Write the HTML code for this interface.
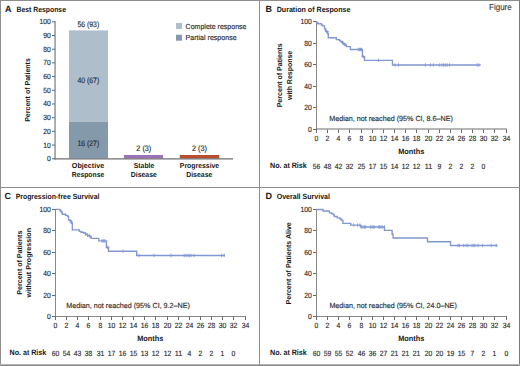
<!DOCTYPE html>
<html><head><meta charset="utf-8"><title>Figure</title>
<style>
html,body{margin:0;padding:0;background:#fff;}
body{width:520px;height:366px;overflow:hidden;}
svg{display:block;font-family:"Liberation Sans", sans-serif;text-rendering:geometricPrecision;}
</style></head>
<body>
<svg width="520" height="366" viewBox="0 0 520 366">
<rect x="0" y="0" width="520" height="366" fill="#fff"/>
<rect x="0" y="0" width="520" height="1" fill="#8e8e8e"/>
<rect x="0" y="0" width="1" height="366" fill="#909090"/>
<rect x="519" y="0" width="1" height="366" fill="#7a7a7a"/>
<rect x="0" y="364" width="520" height="1" fill="#b4b4b4"/>
<rect x="0" y="365" width="520" height="1" fill="#8a8a8a"/>
<rect x="259" y="0" width="1" height="366" fill="#8e8e8e"/>
<rect x="0" y="187" width="520" height="1" fill="#8e8e8e"/>
<text x="5.00" y="12.00" font-size="9.0" font-weight="bold" text-anchor="start" fill="#161616">A</text>
<text x="16.50" y="12.00" font-size="7.6" font-weight="bold" text-anchor="start" fill="#161616" textLength="49.50" lengthAdjust="spacingAndGlyphs">Best Response</text>
<rect x="69" y="30.4" width="39" height="91.27350000000001" fill="#aebfcb"/>
<rect x="69" y="121.6735" width="39" height="36.826499999999996" fill="#8499aa"/>
<rect x="124" y="155" width="39" height="3.5" fill="#9b72b8"/>
<rect x="179.8" y="155" width="39.5" height="3.5" fill="#b94e2e"/>
<line x1="55.05" y1="21" x2="55.05" y2="159.5" stroke="#6e6e6e" stroke-width="1.1"/>
<line x1="54.5" y1="158.9" x2="233" y2="158.9" stroke="#6e6e6e" stroke-width="1.1"/>
<line x1="52" y1="158.75" x2="55" y2="158.75" stroke="#6a6a6a" stroke-width="1"/>
<text x="50.90" y="161.25" font-size="7.6" stroke="#2b2b2b" stroke-width="0.15" text-anchor="end" fill="#2b2b2b" textLength="3.78" lengthAdjust="spacingAndGlyphs">0</text>
<line x1="52" y1="145.055" x2="55" y2="145.055" stroke="#6a6a6a" stroke-width="1"/>
<text x="50.90" y="147.56" font-size="7.6" stroke="#2b2b2b" stroke-width="0.15" text-anchor="end" fill="#2b2b2b" textLength="7.56" lengthAdjust="spacingAndGlyphs">10</text>
<line x1="52" y1="131.35999999999999" x2="55" y2="131.35999999999999" stroke="#6a6a6a" stroke-width="1"/>
<text x="50.90" y="133.86" font-size="7.6" stroke="#2b2b2b" stroke-width="0.15" text-anchor="end" fill="#2b2b2b" textLength="7.56" lengthAdjust="spacingAndGlyphs">20</text>
<line x1="52" y1="117.66499999999999" x2="55" y2="117.66499999999999" stroke="#6a6a6a" stroke-width="1"/>
<text x="50.90" y="120.16" font-size="7.6" stroke="#2b2b2b" stroke-width="0.15" text-anchor="end" fill="#2b2b2b" textLength="7.56" lengthAdjust="spacingAndGlyphs">30</text>
<line x1="52" y1="103.97" x2="55" y2="103.97" stroke="#6a6a6a" stroke-width="1"/>
<text x="50.90" y="106.47" font-size="7.6" stroke="#2b2b2b" stroke-width="0.15" text-anchor="end" fill="#2b2b2b" textLength="7.56" lengthAdjust="spacingAndGlyphs">40</text>
<line x1="52" y1="90.275" x2="55" y2="90.275" stroke="#6a6a6a" stroke-width="1"/>
<text x="50.90" y="92.78" font-size="7.6" stroke="#2b2b2b" stroke-width="0.15" text-anchor="end" fill="#2b2b2b" textLength="7.56" lengthAdjust="spacingAndGlyphs">50</text>
<line x1="52" y1="76.58" x2="55" y2="76.58" stroke="#6a6a6a" stroke-width="1"/>
<text x="50.90" y="79.08" font-size="7.6" stroke="#2b2b2b" stroke-width="0.15" text-anchor="end" fill="#2b2b2b" textLength="7.56" lengthAdjust="spacingAndGlyphs">60</text>
<line x1="52" y1="62.88500000000001" x2="55" y2="62.88500000000001" stroke="#6a6a6a" stroke-width="1"/>
<text x="50.90" y="65.39" font-size="7.6" stroke="#2b2b2b" stroke-width="0.15" text-anchor="end" fill="#2b2b2b" textLength="7.56" lengthAdjust="spacingAndGlyphs">70</text>
<line x1="52" y1="49.190000000000005" x2="55" y2="49.190000000000005" stroke="#6a6a6a" stroke-width="1"/>
<text x="50.90" y="51.69" font-size="7.6" stroke="#2b2b2b" stroke-width="0.15" text-anchor="end" fill="#2b2b2b" textLength="7.56" lengthAdjust="spacingAndGlyphs">80</text>
<line x1="52" y1="35.49500000000001" x2="55" y2="35.49500000000001" stroke="#6a6a6a" stroke-width="1"/>
<text x="50.90" y="38.00" font-size="7.6" stroke="#2b2b2b" stroke-width="0.15" text-anchor="end" fill="#2b2b2b" textLength="7.56" lengthAdjust="spacingAndGlyphs">90</text>
<line x1="52" y1="21.80000000000002" x2="55" y2="21.80000000000002" stroke="#6a6a6a" stroke-width="1"/>
<text x="50.90" y="24.30" font-size="7.6" stroke="#2b2b2b" stroke-width="0.15" text-anchor="end" fill="#2b2b2b" textLength="11.34" lengthAdjust="spacingAndGlyphs">100</text>
<text x="88.30" y="26.60" font-size="7.9" stroke="#2b2b2b" stroke-width="0.15" text-anchor="middle" fill="#2b2b2b" textLength="21.80" lengthAdjust="spacingAndGlyphs">56 (93)</text>
<text x="88.30" y="83.30" font-size="7.9" stroke="#2b2b2b" stroke-width="0.15" text-anchor="middle" fill="#2b2b2b" textLength="21.80" lengthAdjust="spacingAndGlyphs">40 (67)</text>
<text x="88.30" y="145.50" font-size="7.9" stroke="#2b2b2b" stroke-width="0.15" text-anchor="middle" fill="#2b2b2b" textLength="21.80" lengthAdjust="spacingAndGlyphs">16 (27)</text>
<text x="143.80" y="150.90" font-size="7.9" stroke="#2b2b2b" stroke-width="0.15" text-anchor="middle" fill="#2b2b2b" textLength="15.00" lengthAdjust="spacingAndGlyphs">2 (3)</text>
<text x="199.50" y="150.90" font-size="7.9" stroke="#2b2b2b" stroke-width="0.15" text-anchor="middle" fill="#2b2b2b" textLength="15.00" lengthAdjust="spacingAndGlyphs">2 (3)</text>
<text x="88.00" y="168.00" font-size="7.3" font-weight="bold" text-anchor="middle" fill="#161616" textLength="32.40" lengthAdjust="spacingAndGlyphs">Objective</text>
<text x="88.00" y="177.20" font-size="7.3" font-weight="bold" text-anchor="middle" fill="#161616" textLength="32.40" lengthAdjust="spacingAndGlyphs">Response</text>
<text x="144.00" y="168.00" font-size="7.3" font-weight="bold" text-anchor="middle" fill="#161616" textLength="20.50" lengthAdjust="spacingAndGlyphs">Stable</text>
<text x="143.80" y="177.20" font-size="7.3" font-weight="bold" text-anchor="middle" fill="#161616" textLength="26.00" lengthAdjust="spacingAndGlyphs">Disease</text>
<text x="199.50" y="168.00" font-size="7.3" font-weight="bold" text-anchor="middle" fill="#161616" textLength="39.40" lengthAdjust="spacingAndGlyphs">Progressive</text>
<text x="199.30" y="177.20" font-size="7.3" font-weight="bold" text-anchor="middle" fill="#161616" textLength="26.20" lengthAdjust="spacingAndGlyphs">Disease</text>
<text transform="translate(29.8,90) rotate(-90)" x="0" y="0" font-size="7.2" font-weight="bold" text-anchor="middle" fill="#161616" textLength="63.7" lengthAdjust="spacingAndGlyphs">Percent of Patients</text>
<rect x="176" y="23" width="6" height="6" fill="#aebfcb"/>
<rect x="176" y="34.7" width="6" height="6" fill="#8499aa"/>
<text x="185.60" y="28.60" font-size="7.3" stroke="#2b2b2b" stroke-width="0.15" text-anchor="start" fill="#2b2b2b" textLength="60.90" lengthAdjust="spacingAndGlyphs">Complete response</text>
<text x="185.60" y="40.30" font-size="7.3" stroke="#2b2b2b" stroke-width="0.15" text-anchor="start" fill="#2b2b2b" textLength="51.00" lengthAdjust="spacingAndGlyphs">Partial response</text>
<text x="265.50" y="12.20" font-size="9.0" font-weight="bold" text-anchor="start" fill="#161616">B</text>
<text x="276.70" y="12.20" font-size="7.6" font-weight="bold" text-anchor="start" fill="#161616" textLength="73.75" lengthAdjust="spacingAndGlyphs">Duration of Response</text>
<line x1="316.5" y1="21" x2="316.5" y2="130" stroke="#888" stroke-width="1"/>
<line x1="316" y1="129" x2="507.0" y2="129" stroke="#6e6e6e" stroke-width="1.1"/>
<line x1="313" y1="129.5" x2="316.5" y2="129.5" stroke="#6a6a6a" stroke-width="1"/>
<text x="311.90" y="132.00" font-size="7.6" stroke="#2b2b2b" stroke-width="0.15" text-anchor="end" fill="#2b2b2b" textLength="3.78" lengthAdjust="spacingAndGlyphs">0</text>
<line x1="313" y1="107.5" x2="316.5" y2="107.5" stroke="#6a6a6a" stroke-width="1"/>
<text x="311.90" y="110.00" font-size="7.6" stroke="#2b2b2b" stroke-width="0.15" text-anchor="end" fill="#2b2b2b" textLength="7.56" lengthAdjust="spacingAndGlyphs">20</text>
<line x1="313" y1="86.5" x2="316.5" y2="86.5" stroke="#6a6a6a" stroke-width="1"/>
<text x="311.90" y="89.00" font-size="7.6" stroke="#2b2b2b" stroke-width="0.15" text-anchor="end" fill="#2b2b2b" textLength="7.56" lengthAdjust="spacingAndGlyphs">40</text>
<line x1="313" y1="64.5" x2="316.5" y2="64.5" stroke="#6a6a6a" stroke-width="1"/>
<text x="311.90" y="67.00" font-size="7.6" stroke="#2b2b2b" stroke-width="0.15" text-anchor="end" fill="#2b2b2b" textLength="7.56" lengthAdjust="spacingAndGlyphs">60</text>
<line x1="313" y1="43.5" x2="316.5" y2="43.5" stroke="#6a6a6a" stroke-width="1"/>
<text x="311.90" y="46.00" font-size="7.6" stroke="#2b2b2b" stroke-width="0.15" text-anchor="end" fill="#2b2b2b" textLength="7.56" lengthAdjust="spacingAndGlyphs">80</text>
<line x1="313" y1="21.5" x2="316.5" y2="21.5" stroke="#6a6a6a" stroke-width="1"/>
<text x="311.90" y="24.00" font-size="7.6" stroke="#2b2b2b" stroke-width="0.15" text-anchor="end" fill="#2b2b2b" textLength="11.34" lengthAdjust="spacingAndGlyphs">100</text>
<line x1="316.5" y1="129.5" x2="316.5" y2="133" stroke="#6a6a6a" stroke-width="1"/>
<text x="316.50" y="140.80" font-size="7.6" stroke="#2b2b2b" stroke-width="0.15" text-anchor="middle" fill="#2b2b2b" textLength="3.78" lengthAdjust="spacingAndGlyphs">0</text>
<line x1="327.5" y1="129.5" x2="327.5" y2="133" stroke="#6a6a6a" stroke-width="1"/>
<text x="327.50" y="140.80" font-size="7.6" stroke="#2b2b2b" stroke-width="0.15" text-anchor="middle" fill="#2b2b2b" textLength="3.78" lengthAdjust="spacingAndGlyphs">2</text>
<line x1="338.5" y1="129.5" x2="338.5" y2="133" stroke="#6a6a6a" stroke-width="1"/>
<text x="338.50" y="140.80" font-size="7.6" stroke="#2b2b2b" stroke-width="0.15" text-anchor="middle" fill="#2b2b2b" textLength="3.78" lengthAdjust="spacingAndGlyphs">4</text>
<line x1="349.5" y1="129.5" x2="349.5" y2="133" stroke="#6a6a6a" stroke-width="1"/>
<text x="349.50" y="140.80" font-size="7.6" stroke="#2b2b2b" stroke-width="0.15" text-anchor="middle" fill="#2b2b2b" textLength="3.78" lengthAdjust="spacingAndGlyphs">6</text>
<line x1="361.5" y1="129.5" x2="361.5" y2="133" stroke="#6a6a6a" stroke-width="1"/>
<text x="361.50" y="140.80" font-size="7.6" stroke="#2b2b2b" stroke-width="0.15" text-anchor="middle" fill="#2b2b2b" textLength="3.78" lengthAdjust="spacingAndGlyphs">8</text>
<line x1="372.5" y1="129.5" x2="372.5" y2="133" stroke="#6a6a6a" stroke-width="1"/>
<text x="372.50" y="140.80" font-size="7.6" stroke="#2b2b2b" stroke-width="0.15" text-anchor="middle" fill="#2b2b2b" textLength="7.56" lengthAdjust="spacingAndGlyphs">10</text>
<line x1="383.5" y1="129.5" x2="383.5" y2="133" stroke="#6a6a6a" stroke-width="1"/>
<text x="383.50" y="140.80" font-size="7.6" stroke="#2b2b2b" stroke-width="0.15" text-anchor="middle" fill="#2b2b2b" textLength="7.56" lengthAdjust="spacingAndGlyphs">12</text>
<line x1="394.5" y1="129.5" x2="394.5" y2="133" stroke="#6a6a6a" stroke-width="1"/>
<text x="394.50" y="140.80" font-size="7.6" stroke="#2b2b2b" stroke-width="0.15" text-anchor="middle" fill="#2b2b2b" textLength="7.56" lengthAdjust="spacingAndGlyphs">14</text>
<line x1="405.5" y1="129.5" x2="405.5" y2="133" stroke="#6a6a6a" stroke-width="1"/>
<text x="405.50" y="140.80" font-size="7.6" stroke="#2b2b2b" stroke-width="0.15" text-anchor="middle" fill="#2b2b2b" textLength="7.56" lengthAdjust="spacingAndGlyphs">16</text>
<line x1="416.5" y1="129.5" x2="416.5" y2="133" stroke="#6a6a6a" stroke-width="1"/>
<text x="416.50" y="140.80" font-size="7.6" stroke="#2b2b2b" stroke-width="0.15" text-anchor="middle" fill="#2b2b2b" textLength="7.56" lengthAdjust="spacingAndGlyphs">18</text>
<line x1="428.5" y1="129.5" x2="428.5" y2="133" stroke="#6a6a6a" stroke-width="1"/>
<text x="428.50" y="140.80" font-size="7.6" stroke="#2b2b2b" stroke-width="0.15" text-anchor="middle" fill="#2b2b2b" textLength="7.56" lengthAdjust="spacingAndGlyphs">20</text>
<line x1="439.5" y1="129.5" x2="439.5" y2="133" stroke="#6a6a6a" stroke-width="1"/>
<text x="439.50" y="140.80" font-size="7.6" stroke="#2b2b2b" stroke-width="0.15" text-anchor="middle" fill="#2b2b2b" textLength="7.56" lengthAdjust="spacingAndGlyphs">22</text>
<line x1="450.5" y1="129.5" x2="450.5" y2="133" stroke="#6a6a6a" stroke-width="1"/>
<text x="450.50" y="140.80" font-size="7.6" stroke="#2b2b2b" stroke-width="0.15" text-anchor="middle" fill="#2b2b2b" textLength="7.56" lengthAdjust="spacingAndGlyphs">24</text>
<line x1="461.5" y1="129.5" x2="461.5" y2="133" stroke="#6a6a6a" stroke-width="1"/>
<text x="461.50" y="140.80" font-size="7.6" stroke="#2b2b2b" stroke-width="0.15" text-anchor="middle" fill="#2b2b2b" textLength="7.56" lengthAdjust="spacingAndGlyphs">26</text>
<line x1="472.5" y1="129.5" x2="472.5" y2="133" stroke="#6a6a6a" stroke-width="1"/>
<text x="472.50" y="140.80" font-size="7.6" stroke="#2b2b2b" stroke-width="0.15" text-anchor="middle" fill="#2b2b2b" textLength="7.56" lengthAdjust="spacingAndGlyphs">28</text>
<line x1="483.5" y1="129.5" x2="483.5" y2="133" stroke="#6a6a6a" stroke-width="1"/>
<text x="483.50" y="140.80" font-size="7.6" stroke="#2b2b2b" stroke-width="0.15" text-anchor="middle" fill="#2b2b2b" textLength="7.56" lengthAdjust="spacingAndGlyphs">30</text>
<line x1="494.5" y1="129.5" x2="494.5" y2="133" stroke="#6a6a6a" stroke-width="1"/>
<text x="494.50" y="140.80" font-size="7.6" stroke="#2b2b2b" stroke-width="0.15" text-anchor="middle" fill="#2b2b2b" textLength="7.56" lengthAdjust="spacingAndGlyphs">32</text>
<line x1="506.5" y1="129.5" x2="506.5" y2="133" stroke="#6a6a6a" stroke-width="1"/>
<text x="506.50" y="140.80" font-size="7.6" stroke="#2b2b2b" stroke-width="0.15" text-anchor="middle" fill="#2b2b2b" textLength="7.56" lengthAdjust="spacingAndGlyphs">34</text>
<text x="411.27" y="153.90" font-size="7.8" font-weight="bold" text-anchor="middle" fill="#161616" textLength="26.10" lengthAdjust="spacingAndGlyphs">Months</text>
<text x="270.00" y="168.40" font-size="7.8" font-weight="bold" text-anchor="start" fill="#161616" textLength="36.75" lengthAdjust="spacingAndGlyphs">No. at Risk</text>
<text x="316.50" y="168.50" font-size="7.6" stroke="#2b2b2b" stroke-width="0.15" text-anchor="middle" fill="#2b2b2b" textLength="7.56" lengthAdjust="spacingAndGlyphs">56</text>
<text x="327.50" y="168.50" font-size="7.6" stroke="#2b2b2b" stroke-width="0.15" text-anchor="middle" fill="#2b2b2b" textLength="7.56" lengthAdjust="spacingAndGlyphs">48</text>
<text x="338.50" y="168.50" font-size="7.6" stroke="#2b2b2b" stroke-width="0.15" text-anchor="middle" fill="#2b2b2b" textLength="7.56" lengthAdjust="spacingAndGlyphs">42</text>
<text x="349.50" y="168.50" font-size="7.6" stroke="#2b2b2b" stroke-width="0.15" text-anchor="middle" fill="#2b2b2b" textLength="7.56" lengthAdjust="spacingAndGlyphs">32</text>
<text x="361.50" y="168.50" font-size="7.6" stroke="#2b2b2b" stroke-width="0.15" text-anchor="middle" fill="#2b2b2b" textLength="7.56" lengthAdjust="spacingAndGlyphs">25</text>
<text x="372.50" y="168.50" font-size="7.6" stroke="#2b2b2b" stroke-width="0.15" text-anchor="middle" fill="#2b2b2b" textLength="7.56" lengthAdjust="spacingAndGlyphs">17</text>
<text x="383.50" y="168.50" font-size="7.6" stroke="#2b2b2b" stroke-width="0.15" text-anchor="middle" fill="#2b2b2b" textLength="7.56" lengthAdjust="spacingAndGlyphs">15</text>
<text x="394.50" y="168.50" font-size="7.6" stroke="#2b2b2b" stroke-width="0.15" text-anchor="middle" fill="#2b2b2b" textLength="7.56" lengthAdjust="spacingAndGlyphs">14</text>
<text x="405.50" y="168.50" font-size="7.6" stroke="#2b2b2b" stroke-width="0.15" text-anchor="middle" fill="#2b2b2b" textLength="7.56" lengthAdjust="spacingAndGlyphs">12</text>
<text x="416.50" y="168.50" font-size="7.6" stroke="#2b2b2b" stroke-width="0.15" text-anchor="middle" fill="#2b2b2b" textLength="7.56" lengthAdjust="spacingAndGlyphs">12</text>
<text x="428.50" y="168.50" font-size="7.6" stroke="#2b2b2b" stroke-width="0.15" text-anchor="middle" fill="#2b2b2b" textLength="7.56" lengthAdjust="spacingAndGlyphs">11</text>
<text x="439.50" y="168.50" font-size="7.6" stroke="#2b2b2b" stroke-width="0.15" text-anchor="middle" fill="#2b2b2b" textLength="3.78" lengthAdjust="spacingAndGlyphs">9</text>
<text x="450.50" y="168.50" font-size="7.6" stroke="#2b2b2b" stroke-width="0.15" text-anchor="middle" fill="#2b2b2b" textLength="3.78" lengthAdjust="spacingAndGlyphs">2</text>
<text x="461.50" y="168.50" font-size="7.6" stroke="#2b2b2b" stroke-width="0.15" text-anchor="middle" fill="#2b2b2b" textLength="3.78" lengthAdjust="spacingAndGlyphs">2</text>
<text x="472.50" y="168.50" font-size="7.6" stroke="#2b2b2b" stroke-width="0.15" text-anchor="middle" fill="#2b2b2b" textLength="3.78" lengthAdjust="spacingAndGlyphs">2</text>
<text x="483.50" y="168.50" font-size="7.6" stroke="#2b2b2b" stroke-width="0.15" text-anchor="middle" fill="#2b2b2b" textLength="3.78" lengthAdjust="spacingAndGlyphs">0</text>
<text x="329.20" y="121.10" font-size="7.4" stroke="#2b2b2b" stroke-width="0.15" text-anchor="start" fill="#2b2b2b" textLength="123.70" lengthAdjust="spacingAndGlyphs">Median, not reached (95% CI, 8.6–NE)</text>
<text transform="translate(282.3,75.40) rotate(-90)" x="0" y="0" font-size="7.2" font-weight="bold" text-anchor="middle" fill="#161616" textLength="63.9" lengthAdjust="spacingAndGlyphs">Percent of Patients</text>
<text transform="translate(291.5,75.40) rotate(-90)" x="0" y="0" font-size="7.2" font-weight="bold" text-anchor="middle" fill="#161616" textLength="49.3" lengthAdjust="spacingAndGlyphs">with Response</text>
<path d="M316.5,21.5 V22.5 H317.7 V23.7 H321.4 V25 H322.5 V25.8 H324.5 V28.7 H325.5 V30.7 H326.5 V32 H327.5 V33.6 H328.3 V37.7 H336.3 V39.6 H339.3 V40.3 H340.3 V41.5 H341.8 V42.5 H343 V43.8 H344.5 V45 H346.4 V46.6 H350.4 V49.5 H362.4 V56.6 H364.5 V60.3 H392.5 V65 H480.7" fill="none" stroke="#8097d2" stroke-width="1.35"/>
<line x1="326.8" y1="29.8" x2="326.8" y2="33.2" stroke="#8097d2" stroke-width="0.9"/>
<line x1="325.1" y1="31.5" x2="328.5" y2="31.5" stroke="#8097d2" stroke-width="0.9"/>
<line x1="327.8" y1="31.099999999999998" x2="327.8" y2="34.5" stroke="#8097d2" stroke-width="0.9"/>
<line x1="342.5" y1="40.8" x2="342.5" y2="44.2" stroke="#8097d2" stroke-width="0.9"/>
<line x1="343.8" y1="41.8" x2="343.8" y2="45.2" stroke="#8097d2" stroke-width="0.9"/>
<line x1="342.1" y1="43.5" x2="345.5" y2="43.5" stroke="#8097d2" stroke-width="0.9"/>
<line x1="345.2" y1="43.099999999999994" x2="345.2" y2="46.5" stroke="#8097d2" stroke-width="0.9"/>
<line x1="358.2" y1="47.8" x2="358.2" y2="51.2" stroke="#8097d2" stroke-width="0.9"/>
<line x1="359.5" y1="47.8" x2="359.5" y2="51.2" stroke="#8097d2" stroke-width="0.9"/>
<line x1="360.5" y1="47.8" x2="360.5" y2="51.2" stroke="#8097d2" stroke-width="0.9"/>
<line x1="361.5" y1="47.8" x2="361.5" y2="51.2" stroke="#8097d2" stroke-width="0.9"/>
<line x1="363.4" y1="54.9" x2="363.4" y2="58.300000000000004" stroke="#8097d2" stroke-width="0.9"/>
<line x1="361.7" y1="56.6" x2="365.09999999999997" y2="56.6" stroke="#8097d2" stroke-width="0.9"/>
<line x1="378.4" y1="58.599999999999994" x2="378.4" y2="62.0" stroke="#8097d2" stroke-width="0.9"/>
<line x1="395" y1="63.3" x2="395" y2="66.7" stroke="#8097d2" stroke-width="0.9"/>
<line x1="398.5" y1="63.3" x2="398.5" y2="66.7" stroke="#8097d2" stroke-width="0.9"/>
<line x1="425.3" y1="63.3" x2="425.3" y2="66.7" stroke="#8097d2" stroke-width="0.9"/>
<line x1="430.4" y1="63.3" x2="430.4" y2="66.7" stroke="#8097d2" stroke-width="0.9"/>
<line x1="433.4" y1="63.3" x2="433.4" y2="66.7" stroke="#8097d2" stroke-width="0.9"/>
<line x1="439.2" y1="63.3" x2="439.2" y2="66.7" stroke="#8097d2" stroke-width="0.9"/>
<line x1="442" y1="63.3" x2="442" y2="66.7" stroke="#8097d2" stroke-width="0.9"/>
<line x1="443.8" y1="63.3" x2="443.8" y2="66.7" stroke="#8097d2" stroke-width="0.9"/>
<line x1="445.4" y1="63.3" x2="445.4" y2="66.7" stroke="#8097d2" stroke-width="0.9"/>
<line x1="447.2" y1="63.3" x2="447.2" y2="66.7" stroke="#8097d2" stroke-width="0.9"/>
<line x1="449.5" y1="63.3" x2="449.5" y2="66.7" stroke="#8097d2" stroke-width="0.9"/>
<line x1="477" y1="63.3" x2="477" y2="66.7" stroke="#8097d2" stroke-width="0.9"/>
<line x1="478.8" y1="63.3" x2="478.8" y2="66.7" stroke="#8097d2" stroke-width="0.9"/>
<text x="511.70" y="10.40" font-size="8.8" stroke="#3a3a3a" stroke-width="0.15" text-anchor="end" fill="#3a3a3a" textLength="22.60" lengthAdjust="spacingAndGlyphs">Figure</text>
<text x="4.50" y="199.20" font-size="9.0" font-weight="bold" text-anchor="start" fill="#161616">C</text>
<text x="15.70" y="199.20" font-size="7.6" font-weight="bold" text-anchor="start" fill="#161616" textLength="83.75" lengthAdjust="spacingAndGlyphs">Progression-free Survival</text>
<line x1="55.5" y1="209" x2="55.5" y2="317" stroke="#888" stroke-width="1"/>
<line x1="55" y1="316.5" x2="246.0" y2="316.5" stroke="#888" stroke-width="1"/>
<line x1="52" y1="316.5" x2="55.5" y2="316.5" stroke="#6a6a6a" stroke-width="1"/>
<text x="50.90" y="319.00" font-size="7.6" stroke="#2b2b2b" stroke-width="0.15" text-anchor="end" fill="#2b2b2b" textLength="3.78" lengthAdjust="spacingAndGlyphs">0</text>
<line x1="52" y1="295.5" x2="55.5" y2="295.5" stroke="#6a6a6a" stroke-width="1"/>
<text x="50.90" y="298.00" font-size="7.6" stroke="#2b2b2b" stroke-width="0.15" text-anchor="end" fill="#2b2b2b" textLength="7.56" lengthAdjust="spacingAndGlyphs">20</text>
<line x1="52" y1="273.5" x2="55.5" y2="273.5" stroke="#6a6a6a" stroke-width="1"/>
<text x="50.90" y="276.00" font-size="7.6" stroke="#2b2b2b" stroke-width="0.15" text-anchor="end" fill="#2b2b2b" textLength="7.56" lengthAdjust="spacingAndGlyphs">40</text>
<line x1="52" y1="252.5" x2="55.5" y2="252.5" stroke="#6a6a6a" stroke-width="1"/>
<text x="50.90" y="255.00" font-size="7.6" stroke="#2b2b2b" stroke-width="0.15" text-anchor="end" fill="#2b2b2b" textLength="7.56" lengthAdjust="spacingAndGlyphs">60</text>
<line x1="52" y1="230.5" x2="55.5" y2="230.5" stroke="#6a6a6a" stroke-width="1"/>
<text x="50.90" y="233.00" font-size="7.6" stroke="#2b2b2b" stroke-width="0.15" text-anchor="end" fill="#2b2b2b" textLength="7.56" lengthAdjust="spacingAndGlyphs">80</text>
<line x1="52" y1="209.5" x2="55.5" y2="209.5" stroke="#6a6a6a" stroke-width="1"/>
<text x="50.90" y="212.00" font-size="7.6" stroke="#2b2b2b" stroke-width="0.15" text-anchor="end" fill="#2b2b2b" textLength="11.34" lengthAdjust="spacingAndGlyphs">100</text>
<line x1="55.5" y1="316.5" x2="55.5" y2="320" stroke="#6a6a6a" stroke-width="1"/>
<text x="55.50" y="328.30" font-size="7.6" stroke="#2b2b2b" stroke-width="0.15" text-anchor="middle" fill="#2b2b2b" textLength="3.78" lengthAdjust="spacingAndGlyphs">0</text>
<line x1="66.5" y1="316.5" x2="66.5" y2="320" stroke="#6a6a6a" stroke-width="1"/>
<text x="66.50" y="328.30" font-size="7.6" stroke="#2b2b2b" stroke-width="0.15" text-anchor="middle" fill="#2b2b2b" textLength="3.78" lengthAdjust="spacingAndGlyphs">2</text>
<line x1="77.5" y1="316.5" x2="77.5" y2="320" stroke="#6a6a6a" stroke-width="1"/>
<text x="77.50" y="328.30" font-size="7.6" stroke="#2b2b2b" stroke-width="0.15" text-anchor="middle" fill="#2b2b2b" textLength="3.78" lengthAdjust="spacingAndGlyphs">4</text>
<line x1="88.5" y1="316.5" x2="88.5" y2="320" stroke="#6a6a6a" stroke-width="1"/>
<text x="88.50" y="328.30" font-size="7.6" stroke="#2b2b2b" stroke-width="0.15" text-anchor="middle" fill="#2b2b2b" textLength="3.78" lengthAdjust="spacingAndGlyphs">6</text>
<line x1="100.5" y1="316.5" x2="100.5" y2="320" stroke="#6a6a6a" stroke-width="1"/>
<text x="100.50" y="328.30" font-size="7.6" stroke="#2b2b2b" stroke-width="0.15" text-anchor="middle" fill="#2b2b2b" textLength="3.78" lengthAdjust="spacingAndGlyphs">8</text>
<line x1="111.5" y1="316.5" x2="111.5" y2="320" stroke="#6a6a6a" stroke-width="1"/>
<text x="111.50" y="328.30" font-size="7.6" stroke="#2b2b2b" stroke-width="0.15" text-anchor="middle" fill="#2b2b2b" textLength="7.56" lengthAdjust="spacingAndGlyphs">10</text>
<line x1="122.5" y1="316.5" x2="122.5" y2="320" stroke="#6a6a6a" stroke-width="1"/>
<text x="122.50" y="328.30" font-size="7.6" stroke="#2b2b2b" stroke-width="0.15" text-anchor="middle" fill="#2b2b2b" textLength="7.56" lengthAdjust="spacingAndGlyphs">12</text>
<line x1="133.5" y1="316.5" x2="133.5" y2="320" stroke="#6a6a6a" stroke-width="1"/>
<text x="133.50" y="328.30" font-size="7.6" stroke="#2b2b2b" stroke-width="0.15" text-anchor="middle" fill="#2b2b2b" textLength="7.56" lengthAdjust="spacingAndGlyphs">14</text>
<line x1="144.5" y1="316.5" x2="144.5" y2="320" stroke="#6a6a6a" stroke-width="1"/>
<text x="144.50" y="328.30" font-size="7.6" stroke="#2b2b2b" stroke-width="0.15" text-anchor="middle" fill="#2b2b2b" textLength="7.56" lengthAdjust="spacingAndGlyphs">16</text>
<line x1="155.5" y1="316.5" x2="155.5" y2="320" stroke="#6a6a6a" stroke-width="1"/>
<text x="155.50" y="328.30" font-size="7.6" stroke="#2b2b2b" stroke-width="0.15" text-anchor="middle" fill="#2b2b2b" textLength="7.56" lengthAdjust="spacingAndGlyphs">18</text>
<line x1="167.5" y1="316.5" x2="167.5" y2="320" stroke="#6a6a6a" stroke-width="1"/>
<text x="167.50" y="328.30" font-size="7.6" stroke="#2b2b2b" stroke-width="0.15" text-anchor="middle" fill="#2b2b2b" textLength="7.56" lengthAdjust="spacingAndGlyphs">20</text>
<line x1="178.5" y1="316.5" x2="178.5" y2="320" stroke="#6a6a6a" stroke-width="1"/>
<text x="178.50" y="328.30" font-size="7.6" stroke="#2b2b2b" stroke-width="0.15" text-anchor="middle" fill="#2b2b2b" textLength="7.56" lengthAdjust="spacingAndGlyphs">22</text>
<line x1="189.5" y1="316.5" x2="189.5" y2="320" stroke="#6a6a6a" stroke-width="1"/>
<text x="189.50" y="328.30" font-size="7.6" stroke="#2b2b2b" stroke-width="0.15" text-anchor="middle" fill="#2b2b2b" textLength="7.56" lengthAdjust="spacingAndGlyphs">24</text>
<line x1="200.5" y1="316.5" x2="200.5" y2="320" stroke="#6a6a6a" stroke-width="1"/>
<text x="200.50" y="328.30" font-size="7.6" stroke="#2b2b2b" stroke-width="0.15" text-anchor="middle" fill="#2b2b2b" textLength="7.56" lengthAdjust="spacingAndGlyphs">26</text>
<line x1="211.5" y1="316.5" x2="211.5" y2="320" stroke="#6a6a6a" stroke-width="1"/>
<text x="211.50" y="328.30" font-size="7.6" stroke="#2b2b2b" stroke-width="0.15" text-anchor="middle" fill="#2b2b2b" textLength="7.56" lengthAdjust="spacingAndGlyphs">28</text>
<line x1="222.5" y1="316.5" x2="222.5" y2="320" stroke="#6a6a6a" stroke-width="1"/>
<text x="222.50" y="328.30" font-size="7.6" stroke="#2b2b2b" stroke-width="0.15" text-anchor="middle" fill="#2b2b2b" textLength="7.56" lengthAdjust="spacingAndGlyphs">30</text>
<line x1="233.5" y1="316.5" x2="233.5" y2="320" stroke="#6a6a6a" stroke-width="1"/>
<text x="233.50" y="328.30" font-size="7.6" stroke="#2b2b2b" stroke-width="0.15" text-anchor="middle" fill="#2b2b2b" textLength="7.56" lengthAdjust="spacingAndGlyphs">32</text>
<line x1="245.5" y1="316.5" x2="245.5" y2="320" stroke="#6a6a6a" stroke-width="1"/>
<text x="245.50" y="328.30" font-size="7.6" stroke="#2b2b2b" stroke-width="0.15" text-anchor="middle" fill="#2b2b2b" textLength="7.56" lengthAdjust="spacingAndGlyphs">34</text>
<text x="150.28" y="340.90" font-size="7.8" font-weight="bold" text-anchor="middle" fill="#161616" textLength="26.10" lengthAdjust="spacingAndGlyphs">Months</text>
<text x="9.50" y="355.40" font-size="7.8" font-weight="bold" text-anchor="start" fill="#161616" textLength="36.75" lengthAdjust="spacingAndGlyphs">No. at Risk</text>
<text x="55.50" y="355.80" font-size="7.6" stroke="#2b2b2b" stroke-width="0.15" text-anchor="middle" fill="#2b2b2b" textLength="7.56" lengthAdjust="spacingAndGlyphs">60</text>
<text x="66.50" y="355.80" font-size="7.6" stroke="#2b2b2b" stroke-width="0.15" text-anchor="middle" fill="#2b2b2b" textLength="7.56" lengthAdjust="spacingAndGlyphs">54</text>
<text x="77.50" y="355.80" font-size="7.6" stroke="#2b2b2b" stroke-width="0.15" text-anchor="middle" fill="#2b2b2b" textLength="7.56" lengthAdjust="spacingAndGlyphs">43</text>
<text x="88.50" y="355.80" font-size="7.6" stroke="#2b2b2b" stroke-width="0.15" text-anchor="middle" fill="#2b2b2b" textLength="7.56" lengthAdjust="spacingAndGlyphs">38</text>
<text x="100.50" y="355.80" font-size="7.6" stroke="#2b2b2b" stroke-width="0.15" text-anchor="middle" fill="#2b2b2b" textLength="7.56" lengthAdjust="spacingAndGlyphs">31</text>
<text x="111.50" y="355.80" font-size="7.6" stroke="#2b2b2b" stroke-width="0.15" text-anchor="middle" fill="#2b2b2b" textLength="7.56" lengthAdjust="spacingAndGlyphs">17</text>
<text x="122.50" y="355.80" font-size="7.6" stroke="#2b2b2b" stroke-width="0.15" text-anchor="middle" fill="#2b2b2b" textLength="7.56" lengthAdjust="spacingAndGlyphs">16</text>
<text x="133.50" y="355.80" font-size="7.6" stroke="#2b2b2b" stroke-width="0.15" text-anchor="middle" fill="#2b2b2b" textLength="7.56" lengthAdjust="spacingAndGlyphs">15</text>
<text x="144.50" y="355.80" font-size="7.6" stroke="#2b2b2b" stroke-width="0.15" text-anchor="middle" fill="#2b2b2b" textLength="7.56" lengthAdjust="spacingAndGlyphs">13</text>
<text x="155.50" y="355.80" font-size="7.6" stroke="#2b2b2b" stroke-width="0.15" text-anchor="middle" fill="#2b2b2b" textLength="7.56" lengthAdjust="spacingAndGlyphs">12</text>
<text x="167.50" y="355.80" font-size="7.6" stroke="#2b2b2b" stroke-width="0.15" text-anchor="middle" fill="#2b2b2b" textLength="7.56" lengthAdjust="spacingAndGlyphs">12</text>
<text x="178.50" y="355.80" font-size="7.6" stroke="#2b2b2b" stroke-width="0.15" text-anchor="middle" fill="#2b2b2b" textLength="7.56" lengthAdjust="spacingAndGlyphs">11</text>
<text x="189.50" y="355.80" font-size="7.6" stroke="#2b2b2b" stroke-width="0.15" text-anchor="middle" fill="#2b2b2b" textLength="3.78" lengthAdjust="spacingAndGlyphs">4</text>
<text x="200.50" y="355.80" font-size="7.6" stroke="#2b2b2b" stroke-width="0.15" text-anchor="middle" fill="#2b2b2b" textLength="3.78" lengthAdjust="spacingAndGlyphs">2</text>
<text x="211.50" y="355.80" font-size="7.6" stroke="#2b2b2b" stroke-width="0.15" text-anchor="middle" fill="#2b2b2b" textLength="3.78" lengthAdjust="spacingAndGlyphs">2</text>
<text x="222.50" y="355.80" font-size="7.6" stroke="#2b2b2b" stroke-width="0.15" text-anchor="middle" fill="#2b2b2b" textLength="3.78" lengthAdjust="spacingAndGlyphs">1</text>
<text x="233.50" y="355.80" font-size="7.6" stroke="#2b2b2b" stroke-width="0.15" text-anchor="middle" fill="#2b2b2b" textLength="3.78" lengthAdjust="spacingAndGlyphs">0</text>
<text x="66.30" y="308.10" font-size="7.4" stroke="#2b2b2b" stroke-width="0.15" text-anchor="start" fill="#2b2b2b" textLength="123.65" lengthAdjust="spacingAndGlyphs">Median, not reached (95% CI, 9.2–NE)</text>
<text transform="translate(21.8,262.65) rotate(-90)" x="0" y="0" font-size="7.2" font-weight="bold" text-anchor="middle" fill="#161616" textLength="64" lengthAdjust="spacingAndGlyphs">Percent of Patients</text>
<text transform="translate(30.9,262.65) rotate(-90)" x="0" y="0" font-size="7.2" font-weight="bold" text-anchor="middle" fill="#161616" textLength="69.5" lengthAdjust="spacingAndGlyphs">without Progression</text>
<path d="M55.5,209.3 H60 V210.5 H61 V212 H62.2 V214.2 H65.5 V215.4 H67.5 V216.2 H68.5 V220 H70.2 V220.8 H71.5 V223.2 H72.3 V229.8 H79.3 V231.4 H81 V232.2 H83.5 V233 H85.5 V234.2 H87.5 V235.4 H89.5 V236.6 H91.1 V238.3 H98.7 V240.9 H106.4 V247.5 H108.5 V251.2 H136.7 V255.5 H225" fill="none" stroke="#8097d2" stroke-width="1.35"/>
<line x1="71.1" y1="220.3" x2="71.1" y2="223.7" stroke="#8097d2" stroke-width="0.9"/>
<line x1="69.39999999999999" y1="222" x2="72.8" y2="222" stroke="#8097d2" stroke-width="0.9"/>
<line x1="85.5" y1="232.5" x2="85.5" y2="235.89999999999998" stroke="#8097d2" stroke-width="0.9"/>
<line x1="87.5" y1="233.70000000000002" x2="87.5" y2="237.1" stroke="#8097d2" stroke-width="0.9"/>
<line x1="89.4" y1="234.10000000000002" x2="89.4" y2="237.5" stroke="#8097d2" stroke-width="0.9"/>
<line x1="87.7" y1="235.8" x2="91.10000000000001" y2="235.8" stroke="#8097d2" stroke-width="0.9"/>
<line x1="102" y1="239.20000000000002" x2="102" y2="242.6" stroke="#8097d2" stroke-width="0.9"/>
<line x1="103" y1="239.20000000000002" x2="103" y2="242.6" stroke="#8097d2" stroke-width="0.9"/>
<line x1="103.9" y1="239.20000000000002" x2="103.9" y2="242.6" stroke="#8097d2" stroke-width="0.9"/>
<line x1="104.9" y1="239.20000000000002" x2="104.9" y2="242.6" stroke="#8097d2" stroke-width="0.9"/>
<line x1="107.6" y1="245.60000000000002" x2="107.6" y2="249.0" stroke="#8097d2" stroke-width="0.9"/>
<line x1="105.89999999999999" y1="247.3" x2="109.3" y2="247.3" stroke="#8097d2" stroke-width="0.9"/>
<line x1="123" y1="249.5" x2="123" y2="252.89999999999998" stroke="#8097d2" stroke-width="0.9"/>
<line x1="139.2" y1="253.8" x2="139.2" y2="257.2" stroke="#8097d2" stroke-width="0.9"/>
<line x1="154.2" y1="253.8" x2="154.2" y2="257.2" stroke="#8097d2" stroke-width="0.9"/>
<line x1="170.8" y1="253.8" x2="170.8" y2="257.2" stroke="#8097d2" stroke-width="0.9"/>
<line x1="184.2" y1="253.8" x2="184.2" y2="257.2" stroke="#8097d2" stroke-width="0.9"/>
<line x1="186.1" y1="253.8" x2="186.1" y2="257.2" stroke="#8097d2" stroke-width="0.9"/>
<line x1="188.2" y1="253.8" x2="188.2" y2="257.2" stroke="#8097d2" stroke-width="0.9"/>
<line x1="189.3" y1="253.8" x2="189.3" y2="257.2" stroke="#8097d2" stroke-width="0.9"/>
<line x1="191.2" y1="253.8" x2="191.2" y2="257.2" stroke="#8097d2" stroke-width="0.9"/>
<line x1="193.9" y1="253.8" x2="193.9" y2="257.2" stroke="#8097d2" stroke-width="0.9"/>
<line x1="221.6" y1="253.8" x2="221.6" y2="257.2" stroke="#8097d2" stroke-width="0.9"/>
<line x1="224.2" y1="253.8" x2="224.2" y2="257.2" stroke="#8097d2" stroke-width="0.9"/>
<text x="265.50" y="199.20" font-size="9.0" font-weight="bold" text-anchor="start" fill="#161616">D</text>
<text x="276.70" y="199.20" font-size="7.6" font-weight="bold" text-anchor="start" fill="#161616" textLength="53.25" lengthAdjust="spacingAndGlyphs">Overall Survival</text>
<line x1="316.5" y1="209" x2="316.5" y2="317" stroke="#888" stroke-width="1"/>
<line x1="316" y1="316.5" x2="507.0" y2="316.5" stroke="#888" stroke-width="1"/>
<line x1="313" y1="316.5" x2="316.5" y2="316.5" stroke="#6a6a6a" stroke-width="1"/>
<text x="311.90" y="319.00" font-size="7.6" stroke="#2b2b2b" stroke-width="0.15" text-anchor="end" fill="#2b2b2b" textLength="3.78" lengthAdjust="spacingAndGlyphs">0</text>
<line x1="313" y1="295.5" x2="316.5" y2="295.5" stroke="#6a6a6a" stroke-width="1"/>
<text x="311.90" y="298.00" font-size="7.6" stroke="#2b2b2b" stroke-width="0.15" text-anchor="end" fill="#2b2b2b" textLength="7.56" lengthAdjust="spacingAndGlyphs">20</text>
<line x1="313" y1="273.5" x2="316.5" y2="273.5" stroke="#6a6a6a" stroke-width="1"/>
<text x="311.90" y="276.00" font-size="7.6" stroke="#2b2b2b" stroke-width="0.15" text-anchor="end" fill="#2b2b2b" textLength="7.56" lengthAdjust="spacingAndGlyphs">40</text>
<line x1="313" y1="252.5" x2="316.5" y2="252.5" stroke="#6a6a6a" stroke-width="1"/>
<text x="311.90" y="255.00" font-size="7.6" stroke="#2b2b2b" stroke-width="0.15" text-anchor="end" fill="#2b2b2b" textLength="7.56" lengthAdjust="spacingAndGlyphs">60</text>
<line x1="313" y1="230.5" x2="316.5" y2="230.5" stroke="#6a6a6a" stroke-width="1"/>
<text x="311.90" y="233.00" font-size="7.6" stroke="#2b2b2b" stroke-width="0.15" text-anchor="end" fill="#2b2b2b" textLength="7.56" lengthAdjust="spacingAndGlyphs">80</text>
<line x1="313" y1="209.5" x2="316.5" y2="209.5" stroke="#6a6a6a" stroke-width="1"/>
<text x="311.90" y="212.00" font-size="7.6" stroke="#2b2b2b" stroke-width="0.15" text-anchor="end" fill="#2b2b2b" textLength="11.34" lengthAdjust="spacingAndGlyphs">100</text>
<line x1="316.5" y1="316.5" x2="316.5" y2="320" stroke="#6a6a6a" stroke-width="1"/>
<text x="316.50" y="328.30" font-size="7.6" stroke="#2b2b2b" stroke-width="0.15" text-anchor="middle" fill="#2b2b2b" textLength="3.78" lengthAdjust="spacingAndGlyphs">0</text>
<line x1="327.5" y1="316.5" x2="327.5" y2="320" stroke="#6a6a6a" stroke-width="1"/>
<text x="327.50" y="328.30" font-size="7.6" stroke="#2b2b2b" stroke-width="0.15" text-anchor="middle" fill="#2b2b2b" textLength="3.78" lengthAdjust="spacingAndGlyphs">2</text>
<line x1="338.5" y1="316.5" x2="338.5" y2="320" stroke="#6a6a6a" stroke-width="1"/>
<text x="338.50" y="328.30" font-size="7.6" stroke="#2b2b2b" stroke-width="0.15" text-anchor="middle" fill="#2b2b2b" textLength="3.78" lengthAdjust="spacingAndGlyphs">4</text>
<line x1="349.5" y1="316.5" x2="349.5" y2="320" stroke="#6a6a6a" stroke-width="1"/>
<text x="349.50" y="328.30" font-size="7.6" stroke="#2b2b2b" stroke-width="0.15" text-anchor="middle" fill="#2b2b2b" textLength="3.78" lengthAdjust="spacingAndGlyphs">6</text>
<line x1="361.5" y1="316.5" x2="361.5" y2="320" stroke="#6a6a6a" stroke-width="1"/>
<text x="361.50" y="328.30" font-size="7.6" stroke="#2b2b2b" stroke-width="0.15" text-anchor="middle" fill="#2b2b2b" textLength="3.78" lengthAdjust="spacingAndGlyphs">8</text>
<line x1="372.5" y1="316.5" x2="372.5" y2="320" stroke="#6a6a6a" stroke-width="1"/>
<text x="372.50" y="328.30" font-size="7.6" stroke="#2b2b2b" stroke-width="0.15" text-anchor="middle" fill="#2b2b2b" textLength="7.56" lengthAdjust="spacingAndGlyphs">10</text>
<line x1="383.5" y1="316.5" x2="383.5" y2="320" stroke="#6a6a6a" stroke-width="1"/>
<text x="383.50" y="328.30" font-size="7.6" stroke="#2b2b2b" stroke-width="0.15" text-anchor="middle" fill="#2b2b2b" textLength="7.56" lengthAdjust="spacingAndGlyphs">12</text>
<line x1="394.5" y1="316.5" x2="394.5" y2="320" stroke="#6a6a6a" stroke-width="1"/>
<text x="394.50" y="328.30" font-size="7.6" stroke="#2b2b2b" stroke-width="0.15" text-anchor="middle" fill="#2b2b2b" textLength="7.56" lengthAdjust="spacingAndGlyphs">14</text>
<line x1="405.5" y1="316.5" x2="405.5" y2="320" stroke="#6a6a6a" stroke-width="1"/>
<text x="405.50" y="328.30" font-size="7.6" stroke="#2b2b2b" stroke-width="0.15" text-anchor="middle" fill="#2b2b2b" textLength="7.56" lengthAdjust="spacingAndGlyphs">16</text>
<line x1="416.5" y1="316.5" x2="416.5" y2="320" stroke="#6a6a6a" stroke-width="1"/>
<text x="416.50" y="328.30" font-size="7.6" stroke="#2b2b2b" stroke-width="0.15" text-anchor="middle" fill="#2b2b2b" textLength="7.56" lengthAdjust="spacingAndGlyphs">18</text>
<line x1="428.5" y1="316.5" x2="428.5" y2="320" stroke="#6a6a6a" stroke-width="1"/>
<text x="428.50" y="328.30" font-size="7.6" stroke="#2b2b2b" stroke-width="0.15" text-anchor="middle" fill="#2b2b2b" textLength="7.56" lengthAdjust="spacingAndGlyphs">20</text>
<line x1="439.5" y1="316.5" x2="439.5" y2="320" stroke="#6a6a6a" stroke-width="1"/>
<text x="439.50" y="328.30" font-size="7.6" stroke="#2b2b2b" stroke-width="0.15" text-anchor="middle" fill="#2b2b2b" textLength="7.56" lengthAdjust="spacingAndGlyphs">22</text>
<line x1="450.5" y1="316.5" x2="450.5" y2="320" stroke="#6a6a6a" stroke-width="1"/>
<text x="450.50" y="328.30" font-size="7.6" stroke="#2b2b2b" stroke-width="0.15" text-anchor="middle" fill="#2b2b2b" textLength="7.56" lengthAdjust="spacingAndGlyphs">24</text>
<line x1="461.5" y1="316.5" x2="461.5" y2="320" stroke="#6a6a6a" stroke-width="1"/>
<text x="461.50" y="328.30" font-size="7.6" stroke="#2b2b2b" stroke-width="0.15" text-anchor="middle" fill="#2b2b2b" textLength="7.56" lengthAdjust="spacingAndGlyphs">26</text>
<line x1="472.5" y1="316.5" x2="472.5" y2="320" stroke="#6a6a6a" stroke-width="1"/>
<text x="472.50" y="328.30" font-size="7.6" stroke="#2b2b2b" stroke-width="0.15" text-anchor="middle" fill="#2b2b2b" textLength="7.56" lengthAdjust="spacingAndGlyphs">28</text>
<line x1="483.5" y1="316.5" x2="483.5" y2="320" stroke="#6a6a6a" stroke-width="1"/>
<text x="483.50" y="328.30" font-size="7.6" stroke="#2b2b2b" stroke-width="0.15" text-anchor="middle" fill="#2b2b2b" textLength="7.56" lengthAdjust="spacingAndGlyphs">30</text>
<line x1="494.5" y1="316.5" x2="494.5" y2="320" stroke="#6a6a6a" stroke-width="1"/>
<text x="494.50" y="328.30" font-size="7.6" stroke="#2b2b2b" stroke-width="0.15" text-anchor="middle" fill="#2b2b2b" textLength="7.56" lengthAdjust="spacingAndGlyphs">32</text>
<line x1="506.5" y1="316.5" x2="506.5" y2="320" stroke="#6a6a6a" stroke-width="1"/>
<text x="506.50" y="328.30" font-size="7.6" stroke="#2b2b2b" stroke-width="0.15" text-anchor="middle" fill="#2b2b2b" textLength="7.56" lengthAdjust="spacingAndGlyphs">34</text>
<text x="411.27" y="340.90" font-size="7.8" font-weight="bold" text-anchor="middle" fill="#161616" textLength="26.10" lengthAdjust="spacingAndGlyphs">Months</text>
<text x="270.00" y="355.40" font-size="7.8" font-weight="bold" text-anchor="start" fill="#161616" textLength="36.75" lengthAdjust="spacingAndGlyphs">No. at Risk</text>
<text x="316.50" y="355.80" font-size="7.6" stroke="#2b2b2b" stroke-width="0.15" text-anchor="middle" fill="#2b2b2b" textLength="7.56" lengthAdjust="spacingAndGlyphs">60</text>
<text x="327.50" y="355.80" font-size="7.6" stroke="#2b2b2b" stroke-width="0.15" text-anchor="middle" fill="#2b2b2b" textLength="7.56" lengthAdjust="spacingAndGlyphs">59</text>
<text x="338.50" y="355.80" font-size="7.6" stroke="#2b2b2b" stroke-width="0.15" text-anchor="middle" fill="#2b2b2b" textLength="7.56" lengthAdjust="spacingAndGlyphs">55</text>
<text x="349.50" y="355.80" font-size="7.6" stroke="#2b2b2b" stroke-width="0.15" text-anchor="middle" fill="#2b2b2b" textLength="7.56" lengthAdjust="spacingAndGlyphs">52</text>
<text x="361.50" y="355.80" font-size="7.6" stroke="#2b2b2b" stroke-width="0.15" text-anchor="middle" fill="#2b2b2b" textLength="7.56" lengthAdjust="spacingAndGlyphs">46</text>
<text x="372.50" y="355.80" font-size="7.6" stroke="#2b2b2b" stroke-width="0.15" text-anchor="middle" fill="#2b2b2b" textLength="7.56" lengthAdjust="spacingAndGlyphs">36</text>
<text x="383.50" y="355.80" font-size="7.6" stroke="#2b2b2b" stroke-width="0.15" text-anchor="middle" fill="#2b2b2b" textLength="7.56" lengthAdjust="spacingAndGlyphs">27</text>
<text x="394.50" y="355.80" font-size="7.6" stroke="#2b2b2b" stroke-width="0.15" text-anchor="middle" fill="#2b2b2b" textLength="7.56" lengthAdjust="spacingAndGlyphs">21</text>
<text x="405.50" y="355.80" font-size="7.6" stroke="#2b2b2b" stroke-width="0.15" text-anchor="middle" fill="#2b2b2b" textLength="7.56" lengthAdjust="spacingAndGlyphs">21</text>
<text x="416.50" y="355.80" font-size="7.6" stroke="#2b2b2b" stroke-width="0.15" text-anchor="middle" fill="#2b2b2b" textLength="7.56" lengthAdjust="spacingAndGlyphs">21</text>
<text x="428.50" y="355.80" font-size="7.6" stroke="#2b2b2b" stroke-width="0.15" text-anchor="middle" fill="#2b2b2b" textLength="7.56" lengthAdjust="spacingAndGlyphs">20</text>
<text x="439.50" y="355.80" font-size="7.6" stroke="#2b2b2b" stroke-width="0.15" text-anchor="middle" fill="#2b2b2b" textLength="7.56" lengthAdjust="spacingAndGlyphs">20</text>
<text x="450.50" y="355.80" font-size="7.6" stroke="#2b2b2b" stroke-width="0.15" text-anchor="middle" fill="#2b2b2b" textLength="7.56" lengthAdjust="spacingAndGlyphs">19</text>
<text x="461.50" y="355.80" font-size="7.6" stroke="#2b2b2b" stroke-width="0.15" text-anchor="middle" fill="#2b2b2b" textLength="7.56" lengthAdjust="spacingAndGlyphs">15</text>
<text x="472.50" y="355.80" font-size="7.6" stroke="#2b2b2b" stroke-width="0.15" text-anchor="middle" fill="#2b2b2b" textLength="3.78" lengthAdjust="spacingAndGlyphs">7</text>
<text x="483.50" y="355.80" font-size="7.6" stroke="#2b2b2b" stroke-width="0.15" text-anchor="middle" fill="#2b2b2b" textLength="3.78" lengthAdjust="spacingAndGlyphs">2</text>
<text x="494.50" y="355.80" font-size="7.6" stroke="#2b2b2b" stroke-width="0.15" text-anchor="middle" fill="#2b2b2b" textLength="3.78" lengthAdjust="spacingAndGlyphs">1</text>
<text x="506.50" y="355.80" font-size="7.6" stroke="#2b2b2b" stroke-width="0.15" text-anchor="middle" fill="#2b2b2b" textLength="3.78" lengthAdjust="spacingAndGlyphs">0</text>
<text x="329.40" y="308.10" font-size="7.4" stroke="#2b2b2b" stroke-width="0.15" text-anchor="start" fill="#2b2b2b" textLength="127.40" lengthAdjust="spacingAndGlyphs">Median, not reached (95% CI, 24.0–NE)</text>
<text transform="translate(291.0,263.35) rotate(-90)" x="0" y="0" font-size="7.2" font-weight="bold" text-anchor="middle" fill="#161616" textLength="82.2" lengthAdjust="spacingAndGlyphs">Percent of Patients Alive</text>
<path d="M316.5,209.5 H323 V211 H329.5 V212.9 H331.8 V213.9 H333.5 V214.8 H334.3 V216.5 H337.2 V217.8 H340 V219 H341.5 V220.4 H342.9 V223.3 H350.8 V225.1 H360.6 V227 H384.4 V230.4 H392.1 V234.2 H393.1 V238 H427.5 V241.75 H450.5 V245.5 H497.5" fill="none" stroke="#8097d2" stroke-width="1.35"/>
<line x1="353.7" y1="223.4" x2="353.7" y2="226.79999999999998" stroke="#8097d2" stroke-width="0.9"/>
<line x1="357.5" y1="223.4" x2="357.5" y2="226.79999999999998" stroke="#8097d2" stroke-width="0.9"/>
<line x1="359.9" y1="223.4" x2="359.9" y2="226.79999999999998" stroke="#8097d2" stroke-width="0.9"/>
<line x1="361.5" y1="225.3" x2="361.5" y2="228.7" stroke="#8097d2" stroke-width="0.9"/>
<line x1="363" y1="225.3" x2="363" y2="228.7" stroke="#8097d2" stroke-width="0.9"/>
<line x1="364.5" y1="225.3" x2="364.5" y2="228.7" stroke="#8097d2" stroke-width="0.9"/>
<line x1="365.7" y1="225.3" x2="365.7" y2="228.7" stroke="#8097d2" stroke-width="0.9"/>
<line x1="370.5" y1="225.3" x2="370.5" y2="228.7" stroke="#8097d2" stroke-width="0.9"/>
<line x1="372" y1="225.3" x2="372" y2="228.7" stroke="#8097d2" stroke-width="0.9"/>
<line x1="373.3" y1="225.3" x2="373.3" y2="228.7" stroke="#8097d2" stroke-width="0.9"/>
<line x1="374.3" y1="225.3" x2="374.3" y2="228.7" stroke="#8097d2" stroke-width="0.9"/>
<line x1="378.3" y1="225.3" x2="378.3" y2="228.7" stroke="#8097d2" stroke-width="0.9"/>
<line x1="379.5" y1="225.3" x2="379.5" y2="228.7" stroke="#8097d2" stroke-width="0.9"/>
<line x1="381" y1="225.3" x2="381" y2="228.7" stroke="#8097d2" stroke-width="0.9"/>
<line x1="382.3" y1="225.3" x2="382.3" y2="228.7" stroke="#8097d2" stroke-width="0.9"/>
<line x1="384.4" y1="225.3" x2="384.4" y2="228.7" stroke="#8097d2" stroke-width="0.9"/>
<line x1="458" y1="243.8" x2="458" y2="247.2" stroke="#8097d2" stroke-width="0.9"/>
<line x1="459.5" y1="243.8" x2="459.5" y2="247.2" stroke="#8097d2" stroke-width="0.9"/>
<line x1="463.75" y1="243.8" x2="463.75" y2="247.2" stroke="#8097d2" stroke-width="0.9"/>
<line x1="466.25" y1="243.8" x2="466.25" y2="247.2" stroke="#8097d2" stroke-width="0.9"/>
<line x1="468" y1="243.8" x2="468" y2="247.2" stroke="#8097d2" stroke-width="0.9"/>
<line x1="472" y1="243.8" x2="472" y2="247.2" stroke="#8097d2" stroke-width="0.9"/>
<line x1="473.75" y1="243.8" x2="473.75" y2="247.2" stroke="#8097d2" stroke-width="0.9"/>
<line x1="475" y1="243.8" x2="475" y2="247.2" stroke="#8097d2" stroke-width="0.9"/>
<line x1="478" y1="243.8" x2="478" y2="247.2" stroke="#8097d2" stroke-width="0.9"/>
<line x1="482.5" y1="243.8" x2="482.5" y2="247.2" stroke="#8097d2" stroke-width="0.9"/>
<line x1="491.25" y1="243.8" x2="491.25" y2="247.2" stroke="#8097d2" stroke-width="0.9"/>
<line x1="496.25" y1="243.8" x2="496.25" y2="247.2" stroke="#8097d2" stroke-width="0.9"/>
</svg>
</body></html>
